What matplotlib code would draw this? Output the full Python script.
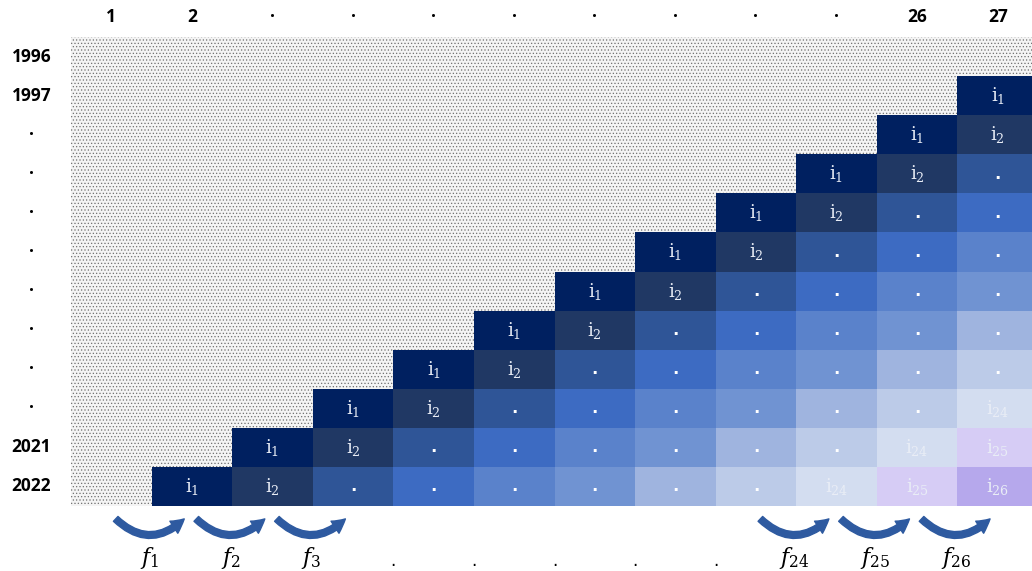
"""Staircase grid of rolling i-windows with f transitions."""
import matplotlib
matplotlib.use("Agg")
import matplotlib.pyplot as plt
import numpy as np
from matplotlib.colors import ListedColormap
from matplotlib.patches import Rectangle, FancyArrowPatch

plt.rcParams["mathtext.fontset"] = "dejavuserif"
plt.rcParams["hatch.linewidth"] = 0.5

# --- data -------------------------------------------------------------
col_labels = ["1", "2", "·", "·", "·", "·", "·", "·", "·", "·", "26", "27"]
row_labels = ["1996", "1997", "·", "·", "·", "·", "·", "·", "·", "·", "2021", "2022"]
# subscript shown on each diagonal step (None -> plain dot)
diag_subs = ["1", "2", None, None, None, None, None, None, "24", "25", "26"]
diag_colors = ["#002060", "#203864", "#2f5597", "#3d6bc2", "#5a82cb", "#7093d2",
               "#9fb4df", "#bccbe8", "#d3ddf0", "#d6ccf5", "#b6a8ec"]
f_labels = ["1", "2", "3", None, None, None, None, None, "24", "25", "26"]

n_rows = len(row_labels)
n_cols = len(col_labels)

# diagonal step index for every cell (NaN where the dotted background shows)
grid = np.full((n_rows, n_cols), np.nan)
for r in range(n_rows):
    for c in range(n_cols):
        k = c - (n_cols - r)
        if 0 <= k < len(diag_subs):
            grid[r, c] = k

# --- figure -----------------------------------------------------------
fig = plt.figure(figsize=(10.32, 5.71), dpi=100)
ax = fig.add_axes([71 / 1032, 65 / 571, 967 / 1032, 469 / 571])
ax.set_xlim(0, n_cols)
ax.set_ylim(n_rows, 0)
ax.axis("off")

ax.add_patch(Rectangle((0, 0), n_cols, n_rows, facecolor="#f4f4f4",
                       edgecolor="#707070", hatch=".....", linewidth=0, zorder=0))

cmap = ListedColormap(diag_colors)
ax.pcolormesh(np.arange(n_cols + 1), np.arange(n_rows + 1),
              np.ma.masked_invalid(grid), cmap=cmap,
              vmin=-0.5, vmax=len(diag_colors) - 0.5, zorder=1)

for r in range(n_rows):
    for c in range(n_cols):
        if np.isnan(grid[r, c]):
            continue
        sub = diag_subs[int(grid[r, c])]
        if sub is None:
            ax.text(c + 0.5, r + 0.5, ".", ha="center", va="center",
                    color="white", fontsize=12, fontweight="bold", zorder=3)
        else:
            ax.text(c + 0.5, r + 0.5, r"$\mathrm{i}_{%s}$" % sub, ha="center",
                    va="center", color="#e9edf6", fontsize=13, zorder=3)

head_font = dict(family="Open Sans", fontweight="bold", fontsize=12.5)
for c, lab in enumerate(col_labels):
    ax.text(c + 0.5, -0.5, lab, ha="center", va="center", clip_on=False, **head_font)
for r, lab in enumerate(row_labels):
    ax.text(-0.49, r + 0.5, lab, ha="center", va="center", clip_on=False, **head_font)

# transitions below the grid
for j, sub in enumerate(f_labels, start=1):
    if sub is None:
        ax.text(j, n_rows + 1.4, ".", ha="center", va="center",
                fontsize=12, clip_on=False)
        continue
    arrow = FancyArrowPatch((j - 0.47, n_rows + 0.28), (j + 0.43, n_rows + 0.28),
                            connectionstyle="arc3,rad=0.5",
                            arrowstyle="simple,head_length=0.6,head_width=0.65,tail_width=0.3",
                            mutation_scale=16, color="#2e5aa0", clip_on=False)
    ax.add_patch(arrow)
    ax.text(j - 0.02, n_rows + 1.32, r"$f_{%s}$" % sub, ha="center", va="center",
            fontsize=16, clip_on=False)

fig.savefig("out.png", dpi=100)
plt.close(fig)
